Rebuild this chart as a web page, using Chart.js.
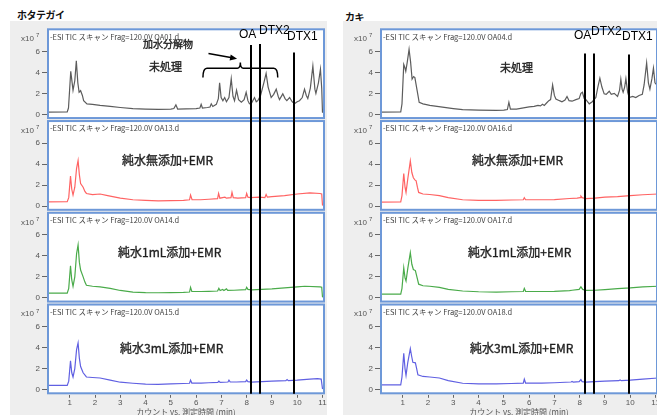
<!DOCTYPE html>
<html lang="ja">
<head>
<meta charset="utf-8">
<title>ホタテガイ / カキ TIC</title>
<script src="https://cdn.jsdelivr.net/npm/chart.js@4.4.1/dist/chart.umd.min.js"></script>
<style>
  html, body { margin: 0; padding: 0; background: #fff; }
  body { width: 657px; height: 415px; overflow: hidden; position: relative; font-family: "Noto Sans CJK JP", sans-serif; }
  .group { position: absolute; top: 21px; width: 317px; height: 396px; background: #eeeeee; }
  .note { position: absolute; white-space: nowrap; line-height: 1; color: #111; }
  .grp { font-size: 10px; font-weight: bold; letter-spacing: -0.5px; }
  .mk { font-family: "Liberation Sans", Arial, sans-serif; font-size: 12px; color: #000; }
  .lbl { font-size: 12px; color: #1e1e1e; -webkit-text-stroke: 0.35px #1e1e1e; }
  .sub { font-size: 11px; color: #1e1e1e; -webkit-text-stroke: 0.35px #1e1e1e; }
</style>
</head>
<body>
<div class="note grp" style="left:17px; top:10px;">ホタテガイ</div>
<div class="note grp" style="left:345px; top:12px;">カキ</div>

<div class="group" style="left:10px;"><canvas id="scallopChart" width="317" height="396"></canvas></div>
<div class="group" style="left:343px;"><canvas id="oysterChart" width="317" height="396"></canvas></div>

<div class="note mk" style="left:239px; top:28px;">OA</div>
<div class="note mk" style="left:259px; top:24px;">DTX2</div>
<div class="note mk" style="left:287px; top:30px;">DTX1</div>
<div class="note sub" style="left:143px; top:39px; font-size:10px;">加水分解物</div>
<div class="note sub" style="left:149px; top:61px;">未処理</div>
<div class="note lbl" style="left:122px; top:154px;">純水無添加+EMR</div>
<div class="note lbl" style="left:118px; top:246px;">純水1mL添加+EMR</div>
<div class="note lbl" style="left:120px; top:342px;">純水3mL添加+EMR</div>

<div class="note mk" style="left:574px; top:29px;">OA</div>
<div class="note mk" style="left:591px; top:25px;">DTX2</div>
<div class="note mk" style="left:622px; top:30px;">DTX1</div>
<div class="note sub" style="left:500px; top:62px;">未処理</div>
<div class="note lbl" style="left:472px; top:154px;">純水無添加+EMR</div>
<div class="note lbl" style="left:468px; top:246px;">純水1mL添加+EMR</div>
<div class="note lbl" style="left:470px; top:342px;">純水3mL添加+EMR</div>

<script>
// tick labels
const timeTicks = [1, 2, 3, 4, 5, 6, 7, 8, 9, 10, 11];
const intensityTicks = [0, 2, 4, 6];

// retention times of the marker lines (min)
const scallopMarkers = [8.16, 8.52, 9.87];
const oysterMarkers = [8.22, 8.58, 9.94];

const scallopFiles = ["OA01.d", "OA13.d", "OA14.d", "OA15.d"];
const oysterFiles = ["OA04.d", "OA16.d", "OA17.d", "OA18.d"];

// traces: [time (min), counts (x10^7)]
const scallopRaw = [
  [0.1, 0.2], [0.9, 0.22], [0.95, 0.6], [1.04, 4.1], [1.13, 2.3], [1.2, 3.2], [1.26, 5.1], [1.32, 3.0],
  [1.37, 2.1], [1.43, 2.25], [1.5, 1.8], [1.55, 1.3], [1.68, 1.0], [1.9, 0.95], [2.2, 0.85], [2.6, 0.75],
  [3.0, 0.65], [3.5, 0.55], [4.0, 0.5], [4.5, 0.47], [5.0, 0.5], [5.12, 0.55], [5.2, 0.9], [5.27, 0.5],
  [5.6, 0.52], [6.0, 0.55], [6.15, 0.6], [6.2, 0.95], [6.25, 0.6], [6.45, 0.65], [6.55, 0.7], [6.6, 1.0],
  [6.66, 0.75], [6.8, 0.95], [6.88, 1.5], [6.93, 3.0], [6.99, 1.6], [7.06, 1.3], [7.13, 1.6], [7.2, 1.2],
  [7.3, 1.6], [7.39, 3.4], [7.46, 1.7], [7.52, 1.3], [7.6, 2.3], [7.68, 1.4], [7.79, 1.15], [7.9, 1.4],
  [7.98, 2.1], [8.05, 1.3], [8.11, 1.0], [8.2, 1.1], [8.31, 1.6], [8.38, 1.2], [8.44, 1.3], [8.55, 1.8],
  [8.68, 3.0], [8.77, 3.9], [8.85, 2.6], [8.97, 1.6], [9.07, 1.9], [9.17, 2.4], [9.25, 1.7], [9.3, 1.4],
  [9.43, 1.95], [9.52, 1.5], [9.59, 1.3], [9.7, 1.6], [9.8, 1.2], [9.89, 1.0], [10.0, 1.2], [10.09, 1.3],
  [10.2, 1.6], [10.29, 2.4], [10.36, 1.8], [10.42, 1.5], [10.52, 2.5], [10.62, 4.6], [10.7, 2.4],
  [10.74, 2.0], [10.84, 3.0], [10.92, 4.3], [10.97, 2.5], [11.0, 0.2], [11.1, 0.1]
];
const scallopNoWater = [
  [0.1, 0.4], [0.9, 0.42], [0.96, 0.8], [1.03, 2.85], [1.08, 1.6], [1.13, 1.05], [1.2, 1.8], [1.27, 3.6],
  [1.33, 4.35], [1.38, 3.0], [1.43, 2.15], [1.53, 1.8], [1.6, 1.4], [1.66, 1.2], [1.9, 1.1], [2.2, 1.15],
  [2.5, 1.0], [3.0, 0.75], [3.5, 0.6], [4.0, 0.55], [4.5, 0.5], [5.0, 0.52], [5.5, 0.55], [5.74, 0.6],
  [5.78, 1.05], [5.84, 0.6], [6.18, 0.6], [6.5, 0.65], [6.85, 0.7], [6.89, 1.2], [6.94, 0.75], [7.14, 0.85],
  [7.2, 0.75], [7.38, 0.8], [7.42, 1.3], [7.47, 0.8], [7.65, 0.75], [7.96, 0.8], [8.0, 1.2], [8.05, 0.85],
  [8.15, 0.8], [8.5, 0.85], [8.72, 0.8], [8.77, 1.1], [8.82, 0.85], [9.0, 0.9], [9.5, 1.0], [10.0, 1.15],
  [10.5, 1.25], [10.9, 1.2], [10.97, 1.15], [11.0, 0.1], [11.1, 0.05]
];
const scallopWater1 = [
  [0.1, 0.45], [0.9, 0.45], [0.96, 0.9], [1.03, 3.05], [1.08, 1.7], [1.13, 1.1], [1.2, 2.0], [1.27, 4.2],
  [1.33, 5.05], [1.38, 3.4], [1.43, 2.65], [1.53, 2.0], [1.6, 1.5], [1.66, 1.2], [1.9, 1.1], [2.2, 1.05],
  [2.6, 0.9], [3.0, 0.7], [3.5, 0.55], [4.0, 0.5], [4.5, 0.48], [5.0, 0.5], [5.5, 0.52], [5.74, 0.55],
  [5.78, 1.0], [5.83, 0.6], [6.2, 0.6], [6.5, 0.62], [6.85, 0.65], [6.9, 0.9], [6.95, 0.7], [7.05, 0.8],
  [7.1, 0.7], [7.2, 0.85], [7.25, 0.7], [7.5, 0.72], [7.96, 0.78], [8.0, 1.0], [8.05, 0.8], [8.2, 0.75],
  [8.6, 0.8], [9.0, 0.85], [9.5, 0.95], [10.0, 1.05], [10.3, 1.1], [10.9, 1.05], [10.97, 1.0], [11.0, 0.1],
  [11.1, 0.05]
];
const scallopWater3 = [
  [0.1, 0.4], [0.9, 0.4], [0.96, 0.8], [1.03, 2.75], [1.08, 1.6], [1.13, 1.2], [1.2, 2.0], [1.27, 3.8],
  [1.33, 4.45], [1.38, 3.0], [1.43, 2.2], [1.53, 1.6], [1.66, 1.2], [1.9, 1.15], [2.2, 1.1], [2.6, 0.9],
  [3.0, 0.7], [3.5, 0.6], [4.0, 0.52], [4.5, 0.5], [5.0, 0.55], [5.5, 0.58], [5.74, 0.6], [5.78, 0.9],
  [5.83, 0.62], [6.2, 0.62], [6.5, 0.65], [6.86, 0.68], [6.9, 0.8], [6.95, 0.68], [7.26, 0.72], [7.3, 0.9],
  [7.35, 0.72], [7.6, 0.72], [7.96, 0.75], [8.0, 0.9], [8.05, 0.75], [8.2, 0.7], [8.6, 0.75], [9.0, 0.8],
  [9.55, 0.85], [9.6, 0.95], [9.65, 0.85], [10.0, 0.9], [10.5, 1.0], [10.8, 1.05], [10.95, 1.0], [11.0, 0.1],
  [11.1, 0.05]
];

const oysterRaw = [
  [0.1, 0.2], [0.92, 0.22], [0.97, 1.0], [1.04, 4.75], [1.08, 4.5], [1.12, 4.1], [1.18, 5.0], [1.25, 6.2],
  [1.31, 5.0], [1.37, 3.35], [1.43, 3.6], [1.48, 3.5], [1.53, 2.8], [1.57, 2.25], [1.65, 1.15], [1.8, 1.0],
  [2.07, 0.85], [2.5, 0.7], [3.0, 0.55], [3.37, 0.45], [4.0, 0.4], [4.69, 0.37], [5.0, 0.4], [5.14, 0.45],
  [5.2, 1.15], [5.26, 0.5], [5.5, 0.5], [6.0, 0.7], [6.2, 0.75], [6.35, 0.85], [6.45, 0.8], [6.53, 0.95],
  [6.6, 0.85], [6.7, 1.1], [6.78, 1.3], [6.85, 1.4], [6.93, 2.8], [7.0, 1.8], [7.06, 1.45], [7.2, 1.3],
  [7.3, 1.2], [7.42, 1.35], [7.5, 1.7], [7.58, 1.3], [7.7, 1.25], [7.85, 1.4], [7.98, 1.5], [8.05, 2.0],
  [8.11, 2.1], [8.18, 1.5], [8.25, 1.4], [8.38, 1.0], [8.5, 1.2], [8.64, 1.6], [8.72, 2.6], [8.8, 3.45],
  [8.88, 2.6], [8.97, 1.95], [9.05, 1.9], [9.17, 2.2], [9.25, 1.9], [9.37, 2.0], [9.5, 1.7], [9.58, 2.3],
  [9.63, 3.35], [9.68, 2.4], [9.72, 2.1], [9.78, 2.6], [9.83, 3.4], [9.9, 2.1], [9.96, 1.6], [10.1, 1.7],
  [10.22, 1.6], [10.35, 1.8], [10.48, 1.9], [10.55, 2.8], [10.65, 4.9], [10.72, 3.0], [10.78, 2.4],
  [10.86, 3.4], [10.92, 4.4], [10.98, 3.0], [11.05, 2.8], [11.1, 2.6]
];
const oysterNoWater = [
  [0.1, 0.38], [0.92, 0.4], [0.97, 1.0], [1.04, 3.1], [1.09, 1.8], [1.13, 1.3], [1.2, 2.6], [1.3, 4.3],
  [1.36, 3.2], [1.42, 2.7], [1.48, 2.5], [1.53, 2.4], [1.58, 1.8], [1.63, 1.3], [1.8, 1.15], [2.07, 1.1],
  [2.45, 1.0], [2.8, 0.8], [3.37, 0.6], [4.0, 0.55], [4.69, 0.55], [5.3, 0.58], [5.77, 0.6], [5.81, 0.8],
  [5.86, 0.6], [6.5, 0.6], [7.0, 0.62], [7.6, 0.72], [7.9, 0.75], [8.02, 0.8], [8.05, 0.95], [8.1, 0.8],
  [8.25, 0.7], [8.6, 0.75], [9.0, 0.85], [9.5, 0.9], [10.0, 1.0], [10.5, 1.08], [11.1, 1.15]
];
const oysterWater1 = [
  [0.1, 0.35], [0.92, 0.35], [0.97, 0.9], [1.04, 2.85], [1.09, 1.9], [1.13, 1.6], [1.2, 2.8], [1.3, 4.3],
  [1.36, 3.2], [1.42, 2.7], [1.5, 2.6], [1.56, 2.0], [1.63, 1.3], [1.8, 1.15], [2.07, 1.1], [2.45, 1.0],
  [2.8, 0.8], [3.37, 0.65], [4.0, 0.58], [4.7, 0.55], [5.3, 0.58], [5.77, 0.6], [5.81, 0.9], [5.86, 0.62],
  [6.5, 0.6], [7.0, 0.62], [7.6, 0.68], [7.7, 0.72], [7.98, 0.8], [8.05, 1.05], [8.12, 0.8], [8.25, 0.7],
  [8.6, 0.72], [9.0, 0.78], [9.5, 0.88], [10.0, 0.95], [10.5, 1.05], [11.1, 1.1]
];
const oysterWater3 = [
  [0.1, 0.45], [0.92, 0.45], [0.97, 1.2], [1.04, 3.45], [1.09, 2.0], [1.13, 1.35], [1.2, 2.6], [1.3, 3.9],
  [1.35, 3.2], [1.4, 2.6], [1.5, 2.55], [1.55, 2.0], [1.6, 1.4], [1.8, 1.25], [2.07, 1.2], [2.45, 1.1],
  [2.8, 0.85], [3.37, 0.6], [4.0, 0.55], [4.7, 0.55], [5.3, 0.58], [5.77, 0.62], [5.81, 1.0], [5.86, 0.62],
  [6.5, 0.62], [7.0, 0.65], [7.66, 0.72], [7.7, 0.78], [7.75, 0.7], [7.98, 0.75], [8.05, 0.95], [8.1, 0.75],
  [8.25, 0.7], [8.6, 0.75], [9.0, 0.8], [9.55, 0.85], [9.6, 0.92], [9.65, 0.85], [10.0, 0.9], [10.5, 1.0],
  [11.1, 1.1]
];

const panelIds = ["p0", "p1", "p2", "p3"];
const traceColors = ["#5c5c5c", "#ff6363", "#4aab4a", "#6060e2"];
const headerPrefix = "-ESI TIC スキャン Frag=120.0V ";

Chart.defaults.font.family = '"Liberation Sans", Arial, sans-serif';
Chart.defaults.color = "#555";

function makeOverlay(cfg) {
  return {
    id: "overlay",
    beforeDraw(chart) {
      const { ctx, chartArea, scales } = chart;
      ctx.save();
      ctx.fillStyle = "#ffffff";
      panelIds.forEach(id => {
        const s = scales[id];
        ctx.fillRect(chartArea.left + 1, s.top + 1, chartArea.right - chartArea.left - 2, s.bottom - s.top - 2);
      });
      ctx.restore();
    },
    afterDatasetsDraw(chart) {
      const { ctx, chartArea, scales } = chart;
      const x = scales.x;
      ctx.save();

      panelIds.forEach((id, i) => {
        const s = scales[id];
        ctx.strokeStyle = "#6d98d8";
        ctx.lineWidth = 2;
        ctx.strokeRect(chartArea.left + 1, s.top + 1.5, chartArea.right - chartArea.left - 2, s.bottom - s.top - 3);

        ctx.fillStyle = "#444";
        ctx.textBaseline = "middle";
        ctx.textAlign = "left";
        ctx.font = '7.5px "Noto Sans CJK JP", sans-serif';
        ctx.fillText(headerPrefix + cfg.files[i], chartArea.left + 3, s.top + 9);

        ctx.fillStyle = "#555";
        ctx.textAlign = "right";
        ctx.font = '8px "Liberation Sans", sans-serif';
        ctx.fillText("x10", chartArea.left - 13, s.top + 11);
        ctx.textAlign = "left";
        ctx.font = '6px "Liberation Sans", sans-serif';
        ctx.fillText("7", chartArea.left - 11, s.top + 8);
      });

      // OA / DTX2 / DTX1 lines
      const first = scales.p0;
      const last = scales.p3;
      ctx.strokeStyle = "#000";
      ctx.lineWidth = 2;
      cfg.markers.forEach((t, k) => {
        const px = Math.round(x.getPixelForValue(t));
        ctx.beginPath();
        ctx.moveTo(px, first.getPixelForValue(cfg.markerTops[k]));
        ctx.lineTo(px, last.bottom - 1);
        ctx.stroke();
      });

      if (cfg.brace) {
        const b = cfg.brace;
        const x0 = x.getPixelForValue(b.start);
        const xm = x.getPixelForValue(b.mid);
        const x1 = x.getPixelForValue(b.end);
        const yb = first.getPixelForValue(b.base);
        const yt = first.getPixelForValue(b.bar);
        const yn = first.getPixelForValue(b.tip);
        ctx.lineWidth = 1.5;
        ctx.beginPath();
        ctx.moveTo(x0, yb);
        ctx.quadraticCurveTo(x0, yt, x0 + 4, yt);
        ctx.lineTo(xm - 3, yt);
        ctx.quadraticCurveTo(xm, yt, xm, yn);
        ctx.quadraticCurveTo(xm, yt, xm + 3, yt);
        ctx.lineTo(x1 - 4, yt);
        ctx.quadraticCurveTo(x1, yt, x1, yb);
        ctx.stroke();
      }

      if (cfg.arrow) {
        const a = cfg.arrow;
        const ax0 = x.getPixelForValue(a.from[0]);
        const ay0 = first.getPixelForValue(a.from[1]);
        const ax1 = x.getPixelForValue(a.to[0]);
        const ay1 = first.getPixelForValue(a.to[1]);
        const ang = Math.atan2(ay1 - ay0, ax1 - ax0);
        ctx.lineWidth = 1.5;
        ctx.beginPath();
        ctx.moveTo(ax0, ay0);
        ctx.lineTo(ax1 - 5 * Math.cos(ang), ay1 - 5 * Math.sin(ang));
        ctx.stroke();
        ctx.fillStyle = "#000";
        ctx.beginPath();
        ctx.moveTo(ax1, ay1);
        ctx.lineTo(ax1 - 7 * Math.cos(ang) + 3 * Math.sin(ang), ay1 - 7 * Math.sin(ang) - 3 * Math.cos(ang));
        ctx.lineTo(ax1 - 7 * Math.cos(ang) - 3 * Math.sin(ang), ay1 - 7 * Math.sin(ang) + 3 * Math.cos(ang));
        ctx.closePath();
        ctx.fill();
      }
      ctx.restore();
    }
  };
}

function panelScale(i) {
  return {
    type: "linear",
    position: "left",
    stack: "panels",
    stackWeight: 1,
    weight: 10 - i,
    min: -0.5,
    max: 8.25,
    afterBuildTicks: axis => {
      axis.ticks = intensityTicks.map(v => ({ value: v }));
    },
    afterFit: axis => {
      axis.width = 37;
    },
    grid: { drawOnChartArea: false, drawTicks: true, tickLength: 5, color: "#666" },
    border: { display: false },
    ticks: { font: { size: 8 }, color: "#555", padding: 2, autoSkip: false }
  };
}

function createTicChart(canvasId, traces, cfg) {
  const ctx = document.getElementById(canvasId);
  if (!ctx) return;

  const scales = {
    x: {
      type: "linear",
      position: "bottom",
      min: 0.1,
      max: 11.1,
      afterBuildTicks: axis => {
        axis.ticks = timeTicks.map(v => ({ value: v }));
      },
      grid: { drawOnChartArea: false, drawTicks: true, tickLength: 3, color: "#666" },
      border: { display: false },
      ticks: { font: { size: 8 }, color: "#555", padding: 0, autoSkip: false, maxRotation: 0 },
      title: {
        display: true,
        text: "カウント vs. 測定時間 (min)",
        color: "#555",
        font: { size: 8, family: '"Noto Sans CJK JP", sans-serif' },
        padding: { top: 0, bottom: 0 }
      }
    }
  };
  panelIds.forEach((id, i) => {
    scales[id] = panelScale(i);
  });

  new Chart(ctx, {
    type: "line",
    data: {
      datasets: traces.map((trace, i) => ({
        data: trace,
        yAxisID: panelIds[i],
        xAxisID: "x",
        borderColor: traceColors[i],
        borderWidth: 1.2,
        pointRadius: 0,
        tension: 0,
        fill: false
      }))
    },
    options: {
      responsive: false,
      animation: false,
      layout: { padding: { left: 0, right: 2, top: 0, bottom: 0 } },
      plugins: {
        legend: { display: false },
        tooltip: { enabled: false }
      },
      scales: scales
    },
    plugins: [makeOverlay(cfg)]
  });
}

function init() {
  createTicChart("scallopChart", [scallopRaw, scallopNoWater, scallopWater1, scallopWater3], {
    files: scallopFiles,
    markers: scallopMarkers,
    markerTops: [6.6, 6.7, 5.9],
    brace: { start: 6.27, mid: 7.75, end: 9.23, base: 3.5, bar: 4.4, tip: 4.95 },
    arrow: { from: [6.49, 5.8], to: [7.62, 5.3] }
  });
  createTicChart("oysterChart", [oysterRaw, oysterNoWater, oysterWater1, oysterWater3], {
    files: oysterFiles,
    markers: oysterMarkers,
    markerTops: [5.8, 5.8, 5.7]
  });
}

document.addEventListener("DOMContentLoaded", init);
</script>
</body>
</html>
